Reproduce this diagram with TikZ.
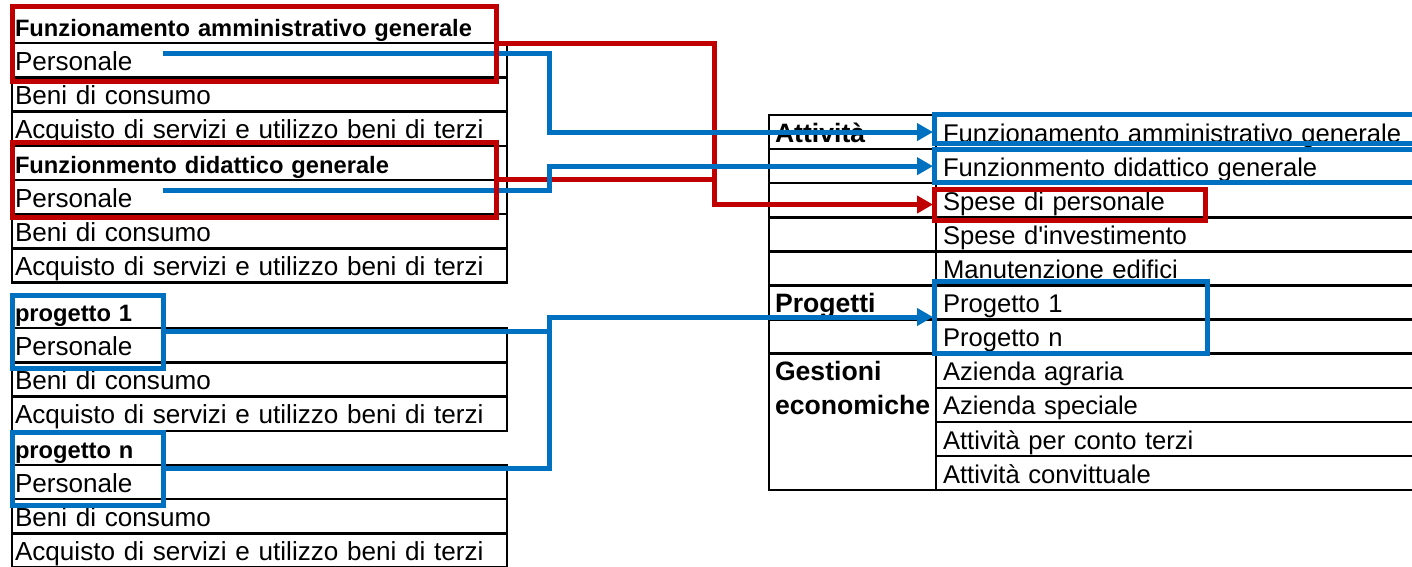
\documentclass[tikz,border=0pt]{standalone}
\usepackage{fontspec}
\setmainfont{Liberation Sans}[Ligatures=TeXOff]
\usepackage{tikz}
\usetikzlibrary{positioning, arrows.meta}
\definecolor{HiRed}{HTML}{C00000}
\definecolor{HiBlue}{HTML}{0070C0}

\begin{document}
\begin{tikzpicture}[
    x=1pt, y=-1pt,
    grid/.style={draw, line width=2.5},
    lcell/.style={grid, anchor=north west, outer sep=0, inner xsep=3, inner ysep=0, text width=489, align=left,
                  minimum height=34.2, text height=27.2, text depth=7, font=\fontsize{26.1}{30}\selectfont},
    lhead/.style={lcell, draw=none, font=\fontsize{23.7}{28}\selectfont\bfseries},
    rcell/.style={lcell, inner xsep=7, text width=480, minimum height=34.1, text height=27.1,
                  font=\fontsize{25.6}{30}\selectfont},
    rlab/.style={lcell, inner xsep=6, text width=155, minimum height=34.1, text height=27.1,
                 font=\fontsize{26.6}{30}\selectfont\bfseries},
    hlred/.style={draw=HiRed, line width=5, inner sep=0, outer sep=0},
    hlblue/.style={draw=HiBlue, line width=5, inner sep=0, outer sep=0},
    redline/.style={HiRed, line width=5},
    blueline/.style={HiBlue, line width=5},
    arrowto/.style={-{Triangle[length=16pt, width=17pt]}, shorten >=2}
]
  \useasboundingbox (0,0) rectangle (1412,566);
  \clip (0,0) rectangle (1412,566);

  % Left table, first block
  \node[lhead] (a0) at (12,9) {Funzionamento amministrativo generale};
  \node[lhead] (a4) at (12,{9+4*34.2}) {Funzionmento didattico generale};
  \foreach \k/\txt in {1/Personale, 2/Beni di consumo, 3/Acquisto di servizi e utilizzo beni di terzi,
                       5/Personale, 6/Beni di consumo, 7/Acquisto di servizi e utilizzo beni di terzi}{
    \node[lcell] (a\k) at (12,{9+\k*34.2}) {\txt};
  }
  \draw[grid] (a4.north east) -- (a4.south east);

  % Left table, second block
  \node[lhead] (b0) at (12,294) {progetto 1};
  \node[lhead] (b4) at (12,{294+4*34.2}) {progetto n};
  \foreach \k/\txt in {1/Personale, 2/Beni di consumo, 3/Acquisto di servizi e utilizzo beni di terzi,
                       5/Personale, 6/Beni di consumo, 7/Acquisto di servizi e utilizzo beni di terzi}{
    \node[lcell] (b\k) at (12,{294+\k*34.2}) {\txt};
  }

  % Right table
  \foreach \k/\txt in {0/Funzionamento amministrativo generale, 1/Funzionmento didattico generale,
                       2/Spese di personale, 3/Spese d'investimento, 4/Manutenzione edifici,
                       5/Progetto 1, 6/Progetto n, 7/Azienda agraria, 8/Azienda speciale,
                       9/Attività per conto terzi, 10/Attività convittuale}{
    \node[rcell] (r\k) at (936,{115+\k*34.1}) {\txt};
  }
  \node[rlab] (c0) at (769,115) {Attività};
  \foreach \k in {1,2,3,4,6}{
    \node[rlab] (c\k) at (769,{115+\k*34.1}) {};
  }
  \node[rlab] (c5) at (769,{115+5*34.1}) {Progetti};
  \node[rlab, minimum height=136.4] (c7) at (769,{115+7*34.1}) {};
  \node[rlab, draw=none] (g1) at (c7.north west) {Gestioni};
  \node[rlab, draw=none, below=0pt of g1] (g2) {economiche};

  % Highlight boxes
  \node[hlred, minimum width=484, minimum height=75] (hlA) at (254,43.5) {};
  \node[hlred, minimum width=484, minimum height=75] (hlB) at (254,179.5) {};
  \node[hlblue, minimum width=151, minimum height=73] (hlC) at (87.5,331.5) {};
  \node[hlblue, minimum width=151, minimum height=73] (hlD) at (87.5,468.5) {};
  \node[hlblue, minimum width=486, minimum height=29] (hlF1) at (1177,128.5) {};
  \node[hlblue, minimum width=486, minimum height=33] (hlF2) at (1177,165.5) {};
  \node[hlred, minimum width=271, minimum height=31] (hlS) at (1069.5,204.5) {};
  \node[hlblue, minimum width=273, minimum height=72] (hlP) at (1070.5,317) {};

  % Connectors
  \coordinate (s1) at (163,53);
  \coordinate (s2) at (163,190);
  \coordinate (jb) at (549,0);
  \coordinate (jr) at (714,0);

  \draw[redline, arrowto, shorten >=1] (hlA.east) -| (jr |- hlS.west) -- (hlS.west);
  \draw[redline] (hlB.east) -- (hlB.east -| jr);

  \draw[blueline, arrowto, shorten >=3] (s1) -| (jb |- r0.west) -- (r0.west);
  \draw[blueline, arrowto, shorten >=3] (s2) -| (jb |- r1.west) -- (r1.west);
  \draw[blueline, arrowto, shorten >=1] (hlC.east) -| (jb |- hlP.west) -- (hlP.west);
  \draw[blueline] (hlD.east) -| (jb |- hlC.east);

  % boxes again on top of the lines
  \foreach \b in {hlA, hlB}{
    \draw[HiRed, line width=5] (\b.north west) rectangle (\b.south east);
  }
\end{tikzpicture}
\end{document}
